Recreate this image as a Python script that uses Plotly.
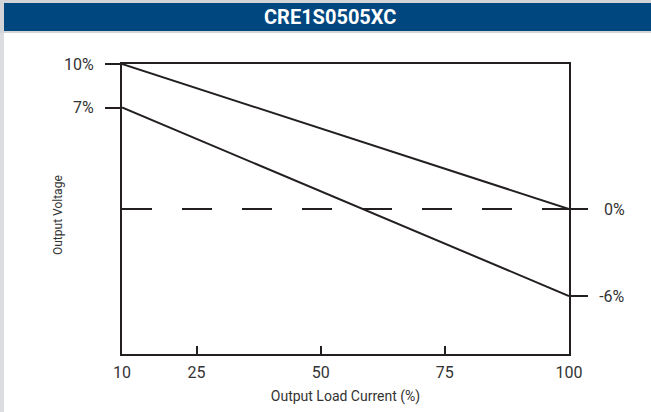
import plotly.graph_objects as go

# Data
load_pct = [10, 100]
upper_limit = [10, 0]
lower_limit = [7, -6]
nominal = [0, 0]

left_tickvals = [10, 7]
left_ticktext = ["10%", "7%"]
right_tickvals = [0, -6]
right_ticktext = ["\u2009\u200a0%", "-6%"]
x_tickvals = [10, 25, 50, 75, 100]
x_ticktext = ["10", "25", "50", "75", "100"]

title_text = "CRE1S0505XC"
x_title = "Output Load Current (%)"
y_title = "Output Voltage"

INK = "#231f20"
FONT = "Roboto, Liberation Sans, sans-serif"

W, H = 651, 412
L, R, T, B = 122, 82, 64, 58
pw, ph = W - L - R, H - T - B


def px(xp):
    return (xp - L) / pw


def py(yp):
    return (H - B - yp) / ph


fig = go.Figure()
fig.add_trace(go.Scatter(x=load_pct, y=upper_limit, mode="lines",
                         line=dict(color=INK, width=2), showlegend=False))
fig.add_trace(go.Scatter(x=load_pct, y=lower_limit, mode="lines",
                         line=dict(color=INK, width=2), showlegend=False))
fig.add_trace(go.Scatter(x=load_pct, y=nominal, mode="lines", yaxis="y2",
                         line=dict(color=INK, width=2, dash="30px,30px"),
                         showlegend=False))

shapes = [
    # outer gray frame (left and top)
    dict(type="rect", xref="paper", yref="paper", x0=px(0), x1=px(4), y0=py(H), y1=py(0),
         fillcolor="#dcdde0", line=dict(width=0), layer="below"),
    dict(type="rect", xref="paper", yref="paper", x0=px(0), x1=px(W), y0=py(33), y1=py(0),
         fillcolor="#d3d4d7", line=dict(width=0), layer="below"),
    # title bar
    dict(type="rect", xref="paper", yref="paper", x0=px(4), x1=px(W), y0=py(31), y1=py(3),
         fillcolor="#00467f", line=dict(width=0), layer="below"),
]

annotations = [
    dict(text="<b>" + title_text + "</b>", xref="paper", yref="paper",
         x=px(330), y=py(17), xanchor="center", yanchor="middle", showarrow=False,
         font=dict(family=FONT, size=20, color="white")),
    dict(text=y_title, xref="paper", yref="paper", textangle=-90,
         x=px(58), y=py(215), xanchor="center", yanchor="middle", showarrow=False,
         font=dict(family=FONT, size=12, color="#333333")),
]

fig.update_layout(
    width=W, height=H,
    margin=dict(l=L, r=R, t=T, b=B, autoexpand=False),
    paper_bgcolor="white", plot_bgcolor="white",
    shapes=shapes, annotations=annotations,
    font=dict(family=FONT, size=16, color="#333333"),
    xaxis=dict(range=[10, 100], tickvals=x_tickvals, ticktext=x_ticktext,
               ticks="inside", ticklen=8, tickwidth=2, tickcolor=INK,
               showline=True, linewidth=2, linecolor=INK, mirror=True,
               showgrid=False, zeroline=False, ticklabelstandoff=3,
               automargin=False,
               title=dict(text=x_title, standoff=10, font=dict(size=14))),
    yaxis=dict(range=[-10, 10], tickvals=left_tickvals, ticktext=left_ticktext,
               ticks="outside", ticklen=15, tickwidth=2, tickcolor=INK,
               showline=True, linewidth=2, linecolor=INK, mirror=True,
               showgrid=False, zeroline=False, ticklabelstandoff=8,
               automargin=False),
    yaxis2=dict(range=[-10, 10], overlaying="y", side="right",
                tickvals=right_tickvals, ticktext=right_ticktext,
                ticks="outside", ticklen=18, tickwidth=2, tickcolor=INK,
                showline=False, showgrid=False, zeroline=False, ticklabelstandoff=8,
                automargin=False),
)

fig.write_html(
    "out.html",
    config={"displayModeBar": False},
    post_script=(
        "document.body.style.margin='0';"
        "document.body.style.overflow='hidden';"
        "document.documentElement.style.overflow='hidden';"
    ),
)
